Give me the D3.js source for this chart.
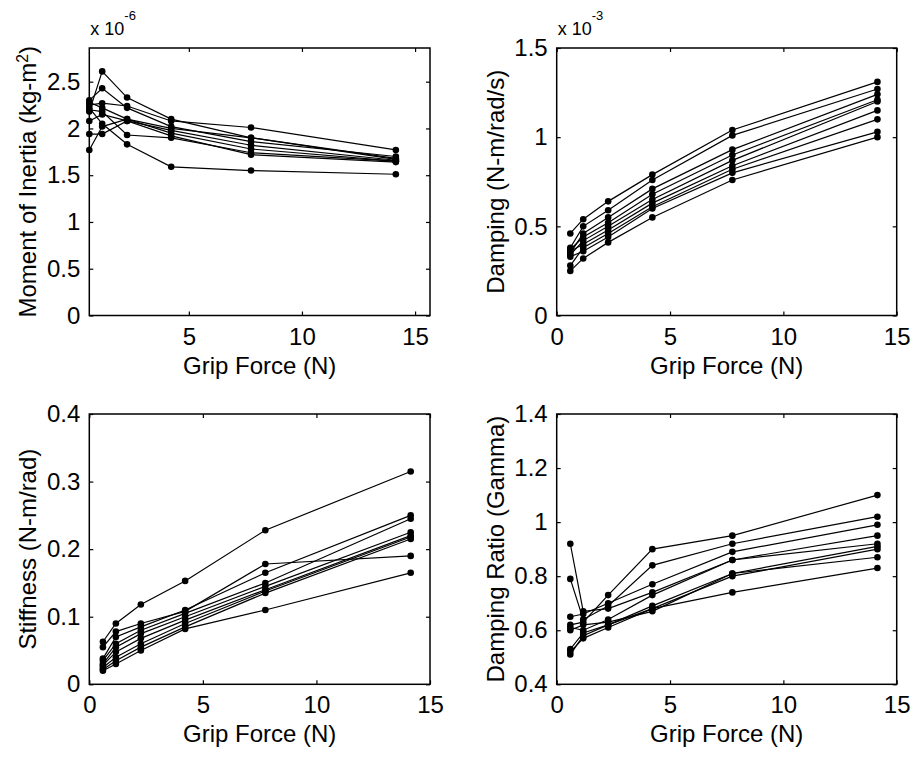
<!DOCTYPE html>
<html>
<head>
<meta charset="utf-8">
<script src="https://cdn.jsdelivr.net/npm/d3@7"></script>
<style>
  html, body { margin: 0; padding: 0; background: #fff; }
  svg text { font-family: "Liberation Sans", Arial, Helvetica, sans-serif; fill: #000; }
</style>
</head>
<body>
<svg id="chart" width="913" height="757"></svg>
<script>
// Grip force levels (N), shared by every subject
const gripForce = [0.6, 1.17, 2.27, 4.22, 7.75, 14.15];

// Moment of inertia (x 10^-6 kg-m^2), one row per subject
const inertia = [
  [2.18, 2.61, 2.33, 2.10, 1.90, 1.67],
  [2.30, 2.43, 2.22, 2.02, 1.86, 1.70],
  [2.25, 2.27, 2.24, 2.08, 2.01, 1.77],
  [2.28, 2.22, 2.10, 2.00, 1.90, 1.68],
  [2.08, 2.15, 2.08, 1.98, 1.82, 1.66],
  [1.77, 2.02, 2.10, 1.95, 1.78, 1.65],
  [1.94, 1.94, 2.08, 1.92, 1.72, 1.64],
  [2.20, 2.18, 1.93, 1.90, 1.74, 1.65],
  [2.22, 2.05, 1.83, 1.59, 1.55, 1.51]
];

// Damping (x 10^-3 N-m/rad/s)
const damping = [
  [0.46, 0.54, 0.64, 0.79, 1.04, 1.31],
  [0.38, 0.50, 0.59, 0.76, 1.01, 1.27],
  [0.35, 0.46, 0.55, 0.71, 0.93, 1.24],
  [0.37, 0.44, 0.52, 0.68, 0.90, 1.21],
  [0.34, 0.42, 0.50, 0.65, 0.87, 1.20],
  [0.36, 0.40, 0.48, 0.63, 0.84, 1.15],
  [0.28, 0.38, 0.46, 0.61, 0.82, 1.10],
  [0.33, 0.36, 0.44, 0.60, 0.80, 1.03],
  [0.25, 0.32, 0.41, 0.55, 0.76, 1.00]
];

// Stiffness (N-m/rad)
const stiffness = [
  [0.063, 0.090, 0.118, 0.153, 0.228, 0.315],
  [0.055, 0.078, 0.090, 0.108, 0.178, 0.190],
  [0.038, 0.070, 0.085, 0.110, 0.165, 0.250],
  [0.035, 0.060, 0.080, 0.105, 0.150, 0.245],
  [0.030, 0.055, 0.075, 0.100, 0.145, 0.225],
  [0.028, 0.048, 0.068, 0.095, 0.140, 0.220],
  [0.025, 0.040, 0.060, 0.090, 0.138, 0.218],
  [0.022, 0.035, 0.055, 0.085, 0.135, 0.215],
  [0.020, 0.030, 0.050, 0.082, 0.110, 0.165]
];

// Damping ratio (gamma)
const dampingRatio = [
  [0.62, 0.63, 0.73, 0.90, 0.95, 1.10],
  [0.79, 0.64, 0.69, 0.84, 0.92, 1.02],
  [0.65, 0.66, 0.70, 0.77, 0.89, 0.99],
  [0.92, 0.67, 0.68, 0.74, 0.86, 0.95],
  [0.61, 0.60, 0.64, 0.73, 0.86, 0.92],
  [0.53, 0.59, 0.62, 0.69, 0.81, 0.91],
  [0.52, 0.57, 0.61, 0.68, 0.80, 0.90],
  [0.60, 0.62, 0.63, 0.67, 0.81, 0.87],
  [0.51, 0.58, 0.62, 0.68, 0.74, 0.83]
];

// Tick values
const xTicksFull = [0, 5, 10, 15];
const xTicksInertia = [5, 10, 15];
const yTicksInertia = [0, 0.5, 1, 1.5, 2, 2.5];
const yTicksDamping = [0, 0.5, 1, 1.5];
const yTicksStiffness = [0, 0.1, 0.2, 0.3, 0.4];
const yTicksRatio = [0.4, 0.6, 0.8, 1, 1.2, 1.4];

const xLabel = "Grip Force (N)";

const svg = d3.select("#chart");
svg.append("rect").attr("width", 913).attr("height", 757).attr("fill", "#fff");

const FONT = 24;
const TICK = 4;

function panel(opts) {
  const { left, right, top, bottom, xDomain, yDomain, xTicks, yTicks, series, yLabel, exponent } = opts;
  const x = d3.scaleLinear().domain(xDomain).range([left, right]);
  const y = d3.scaleLinear().domain(yDomain).range([bottom, top]);
  const g = svg.append("g");

  const fmt = d3.format("~g");

  // data lines and markers
  const line = d3.line().x((d, i) => x(gripForce[i])).y(d => y(d));
  const data = g.append("g");
  series.forEach(s => {
    data.append("path")
      .attr("d", line(s))
      .attr("fill", "none")
      .attr("stroke", "#000")
      .attr("stroke-width", 1.2);
  });
  series.forEach(s => {
    data.selectAll(null)
      .data(s)
      .enter().append("circle")
      .attr("cx", (d, i) => x(gripForce[i]))
      .attr("cy", d => y(d))
      .attr("r", 3.3)
      .attr("fill", "#000");
  });

  // bottom axis with labels, ticks pointing inward
  const bx = g.append("g").attr("transform", `translate(0,${bottom})`)
    .call(d3.axisBottom(x).tickValues(xTicks).tickSizeInner(-TICK).tickSizeOuter(0).tickPadding(12).tickFormat(fmt));
  // top mirror ticks
  const tx = g.append("g").attr("transform", `translate(0,${top})`)
    .call(d3.axisTop(x).tickValues(xTicks).tickSizeInner(-TICK).tickSizeOuter(0).tickFormat(""));
  // left axis with labels
  const ly = g.append("g").attr("transform", `translate(${left},0)`)
    .call(d3.axisLeft(y).tickValues(yTicks).tickSizeInner(-TICK).tickSizeOuter(0).tickPadding(9).tickFormat(fmt));
  // right mirror ticks
  const ry = g.append("g").attr("transform", `translate(${right},0)`)
    .call(d3.axisRight(y).tickValues(yTicks).tickSizeInner(-TICK).tickSizeOuter(0).tickFormat(""));

  [bx, tx, ly, ry].forEach(a => {
    a.select(".domain").remove();
    a.selectAll(".tick line").attr("stroke", "#000").attr("stroke-width", 1.2);
    a.selectAll(".tick text")
      .attr("font-size", FONT)
      .attr("font-family", '"Liberation Sans", Arial, Helvetica, sans-serif')
      .attr("fill", "#000");
  });

  // axes box
  g.append("rect")
    .attr("x", left).attr("y", top)
    .attr("width", right - left).attr("height", bottom - top)
    .attr("fill", "none").attr("stroke", "#000").attr("stroke-width", 1.5);

  // x label
  g.append("text")
    .attr("x", (left + right) / 2)
    .attr("y", bottom + 58)
    .attr("text-anchor", "middle")
    .attr("font-size", FONT)
    .text(xLabel);

  // y label (rotated)
  const yl = g.append("text")
    .attr("transform", `translate(${left - 53},${(top + bottom) / 2}) rotate(-90)`)
    .attr("text-anchor", "middle")
    .attr("font-size", FONT);
  yLabel.forEach(part => {
    const t = yl.append("tspan").text(part.text);
    if (part.sup) t.attr("baseline-shift", "super").attr("font-size", FONT * 0.65);
  });

  // axis multiplier
  if (exponent) {
    const ex = g.append("text")
      .attr("x", left + 1)
      .attr("y", top - 13)
      .attr("font-size", 18);
    ex.append("tspan").text("x 10");
    ex.append("tspan").attr("dy", -15).attr("font-size", 13).text(exponent);
  }
}

panel({
  left: 89.3, right: 430, top: 48, bottom: 315.5,
  xDomain: [0.6, 15.66], yDomain: [0, 2.86],
  xTicks: xTicksInertia, yTicks: yTicksInertia,
  series: inertia,
  yLabel: [{ text: "Moment of Inertia (kg-m" }, { text: "2", sup: true }, { text: ")" }],
  exponent: "-6"
});

panel({
  left: 556.7, right: 896.7, top: 48, bottom: 315.5,
  xDomain: [0, 15], yDomain: [0, 1.5],
  xTicks: xTicksFull, yTicks: yTicksDamping,
  series: damping,
  yLabel: [{ text: "Damping (N-m/rad/s)" }],
  exponent: "-3"
});

panel({
  left: 89.3, right: 430, top: 414, bottom: 684.3,
  xDomain: [0, 15], yDomain: [0, 0.4],
  xTicks: xTicksFull, yTicks: yTicksStiffness,
  series: stiffness,
  yLabel: [{ text: "Stiffness (N-m/rad)" }]
});

panel({
  left: 556.7, right: 896.7, top: 414, bottom: 684.3,
  xDomain: [0, 15], yDomain: [0.4, 1.4],
  xTicks: xTicksFull, yTicks: yTicksRatio,
  series: dampingRatio,
  yLabel: [{ text: "Damping Ratio (Gamma)" }]
});
</script>
</body>
</html>
